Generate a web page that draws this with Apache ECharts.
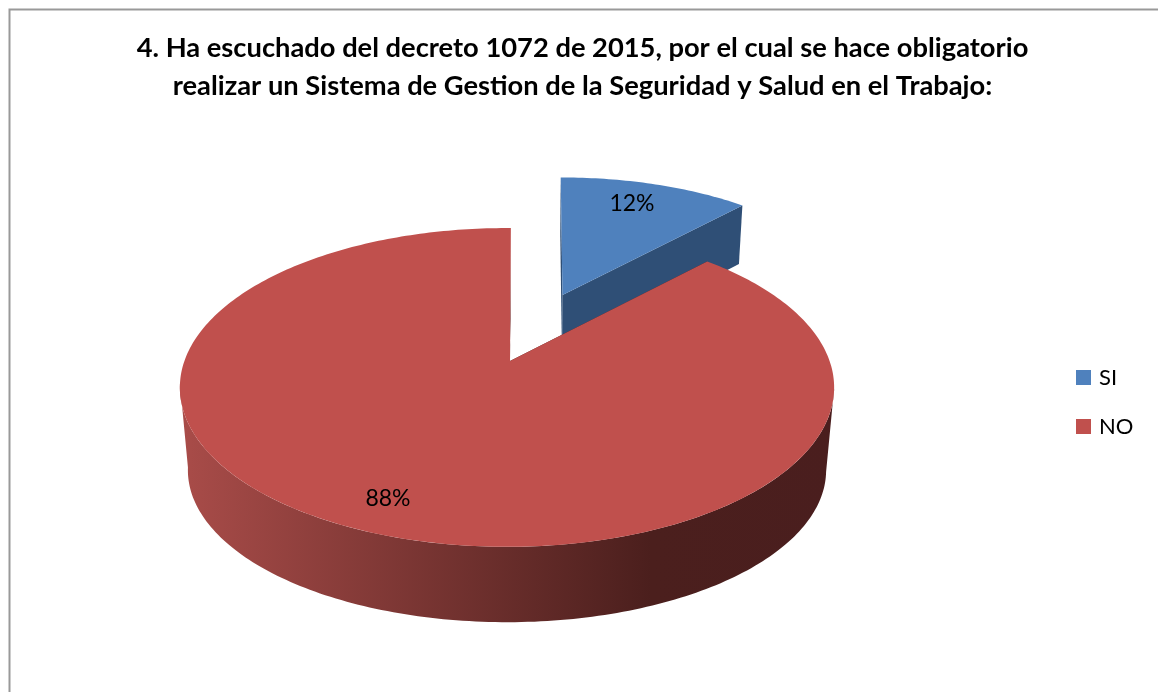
<!DOCTYPE html>
<html>
<head>
<meta charset="utf-8">
<style>
  html, body { margin: 0; padding: 0; background: #fff; }
  #chart { width: 1158px; height: 692px; }
</style>
<script src="https://cdn.jsdelivr.net/npm/echarts@6/dist/echarts.min.js"></script>
</head>
<body>
<div id="chart"></div>
<script>
const titleLines = [
  '4. Ha escuchado del decreto 1072 de 2015, por el cual se hace obligatorio',
  'realizar un Sistema de Gestion de la Seguridad y Salud en el Trabajo:'
]
const categories = ['SI', 'NO']
const values = [12, 88]
const colors = ['#4f81bd', '#c0504d']

const font = 'Lato'
const total = values.reduce((a, b) => a + b, 0)

// excel style 3D pie: a circle pushed through a perspective so the apex is off the ellipse centre
const geometry = {
  SI: {
    top: { ax: 562.5, ay: 295, apexX: 562.5, C: 297, B: 137, k: -0.166, rot: -0.4 },
    bottom: { ax: 562, ay: 356, apexX: 562, C: 291, B: 140, k: -0.16, rot: -0.4 },
    cut: '#2f4f76',
    label: [632, 204]
  },
  NO: {
    top: { ax: 507, ay: 361, apexX: 510, C: 322.6, B: 155, k: -0.166, rot: 0.8 },
    bottom: { ax: 507, ay: 446, apexX: 507, C: 315, B: 148, k: -0.16, rot: 0.8 },
    cut: '#4a1e1e',
    label: [388, 499]
  }
}

function project(g, deg) {
  const t = (deg + g.rot) * Math.PI / 180
  const u = Math.sin(t)
  const v = -Math.cos(t)
  const w = 1 + g.k * v
  return [g.ax + g.C * u / w, g.ay + g.B * v / w]
}

function arc(g, from, to) {
  const pts = []
  const n = Math.max(2, Math.ceil(Math.abs(to - from)))
  for (let i = 0; i <= n; i++) {
    pts.push(project(g, from + (to - from) * i / n))
  }
  return pts
}

function polygon(points, fill, extra) {
  return Object.assign({
    type: 'polygon',
    silent: true,
    shape: { points: points },
    style: { fill: fill }
  }, extra)
}

const sideGradient = {
  type: 'linear', x: 180, y: 0, x2: 834, y2: 0, global: true,
  colorStops: [
    { offset: 0, color: '#a94c49' },
    { offset: 0.72, color: '#4b1f1d' },
    { offset: 1, color: '#4a1e1e' }
  ]
}

function renderSlice(index) {
  return function () {
    const name = categories[index]
    const g = geometry[name]
    const start = values.slice(0, index).reduce((a, b) => a + b, 0) / total * 360
    const end = start + values[index] / total * 360
    const topApex = [g.top.apexX, g.top.ay]
    const bottomApex = [g.bottom.apexX, g.bottom.ay]
    const children = []

    // cut faces
    children.push(polygon([topApex, project(g.top, end), project(g.bottom, end), bottomApex], g.cut))
    children.push(polygon([topApex, project(g.top, start), project(g.bottom, start), bottomApex], g.cut))
    // round wall, only the front half shows
    const from = Math.max(start, 99)
    const to = Math.min(end, 261)
    if (to > from) {
      const wall = arc(g.top, from, to).concat(arc(g.bottom, to, from))
      children.push(polygon(wall, sideGradient))
    }
    // top face
    children.push(polygon([topApex].concat(arc(g.top, start, end)), colors[index]))
    children.push({
      type: 'text',
      silent: true,
      style: {
        text: Math.round(values[index] / total * 100) + '%',
        x: g.label[0],
        y: g.label[1],
        align: 'center',
        verticalAlign: 'middle',
        fill: '#000',
        font: '23px ' + font
      }
    })
    return { type: 'group', children: children }
  }
}

const chart = echarts.init(document.getElementById('chart'))
chart.setOption({
  animation: false,
  backgroundColor: '#fff',
  title: {
    text: titleLines.join('\n'),
    left: 577.5,
    top: 24,
    textAlign: 'center',
    textStyle: {
      fontFamily: font,
      fontWeight: 'bold',
      fontSize: 27.3,
      lineHeight: 38,
      color: '#000'
    }
  },
  legend: {
    orient: 'vertical',
    left: 1071,
    top: 358,
    icon: 'rect',
    itemWidth: 15,
    itemHeight: 15,
    itemGap: 20,
    selectedMode: false,
    data: categories,
    textStyle: { fontFamily: font, fontSize: 22, color: '#000', lineHeight: 29, padding: [0, 0, 0, 3] }
  },
  graphic: [{
    type: 'rect',
    silent: true,
    shape: { x: 9.5, y: 9.5, width: 1300, height: 800 },
    style: { fill: 'none', stroke: '#999', lineWidth: 2 }
  }],
  series: categories.map((name, i) => ({
    type: 'custom',
    name: name,
    coordinateSystem: 'none',
    itemStyle: { color: colors[i] },
    renderItem: renderSlice(i),
    data: [[values[i]]]
  }))
})
</script>
</body>
</html>
